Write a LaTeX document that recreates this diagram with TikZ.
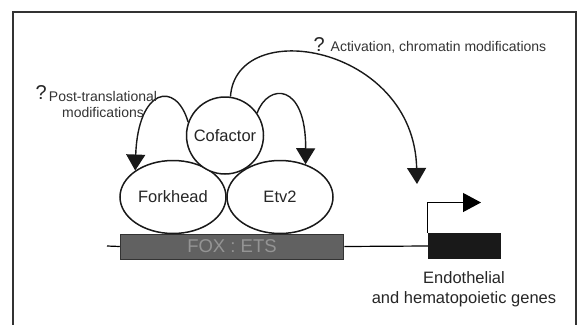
\documentclass[tikz,border=0pt]{standalone}
\usepackage{fontspec}
\setmainfont{Liberation Sans}
\usetikzlibrary{arrows.meta,shapes.geometric}
\begin{document}
\begin{tikzpicture}[x=1pt,y=-1pt,
  prot/.style={draw=black!90,line width=1.5pt,fill=white,ellipse,minimum width=106pt,minimum height=73pt,inner sep=0pt,text=black!85,font=\fontsize{16.5}{19}\selectfont},
  cofbox/.style={draw=black!90,line width=1.5pt,fill=white,circle,minimum size=77pt,inner sep=0pt,text=black!85,font=\fontsize{16.5}{19}\selectfont},
  curv/.style={line width=1.4pt,black!90,-{Triangle[length=16pt,width=19pt]}},
  lbl/.style={font=\fontsize{14}{16}\selectfont,text=black!80,inner sep=0pt},
  gtxt/.style={font=\fontsize{16.5}{19}\selectfont,text=black!85,inner sep=0pt},
  qm/.style={font=\fontsize{20}{22}\selectfont,text=black!85,inner sep=0pt}
]
\useasboundingbox (0,0) rectangle (578,324);
% frame
\draw[line width=1.5pt,black!80] (13,330) -- (13,12) -- (576,12) -- (576,330);

% DNA
\coordinate (dnaL) at (107,246);
\node[draw=black!80,line width=1pt,fill=black!62,minimum width=223.5pt,minimum height=25pt,inner sep=0pt,
  text=black!42,font=\fontsize{18.5}{20}\selectfont] (fox) at (232,246.5) {FOX : ETS};
\node[fill=black!90,minimum width=73pt,minimum height=26pt,inner sep=0pt] (gene) at (464.5,246) {};
\draw[line width=1.2pt] (dnaL) -- (fox.west);
\draw[line width=1.2pt] (fox.east) -- (gene.west);
\coordinate (promtip) at (481,202.5);
\draw[line width=1.2pt,-{Triangle[length=18pt,width=19pt]}] (gene.north west) |- (promtip);

% proteins
\node[prot] (fork) at (173,197) {Forkhead};
\node[prot] (etv) at (280,197) {Etv2};
\node[cofbox] (cof) at (225,135.5) {Cofactor};

% arrows
\draw[curv] (cof.160) .. controls (176,80) and (138,88) .. (fork.145);
\draw[curv] (cof.35) .. controls (268,83) and (306,82) .. (etv.52);
\coordinate (acttip) at (417,184);
\draw[curv] (cof.82) .. controls (236,15) and (414,45) .. (acttip);

% labels
\node[qm,anchor=base west] (q1) at (313.5,51.5) {?};
\node[lbl,anchor=base west] (act) at (330.5,51) {Activation, chromatin modifications};
\node[qm,anchor=base west] (q2) at (35.5,99.5) {?};
\node[lbl,anchor=base] (ptm1) at (103,101.7) {Post-translational};
\node[lbl,anchor=base] (ptm2) at (103,117.3) {modifications};
\node[gtxt,anchor=base] (g1) at (464,283.3) {Endothelial};
\node[gtxt,anchor=base] (g2) at (464,303.3) {and hematopoietic genes};
\end{tikzpicture}
\end{document}
